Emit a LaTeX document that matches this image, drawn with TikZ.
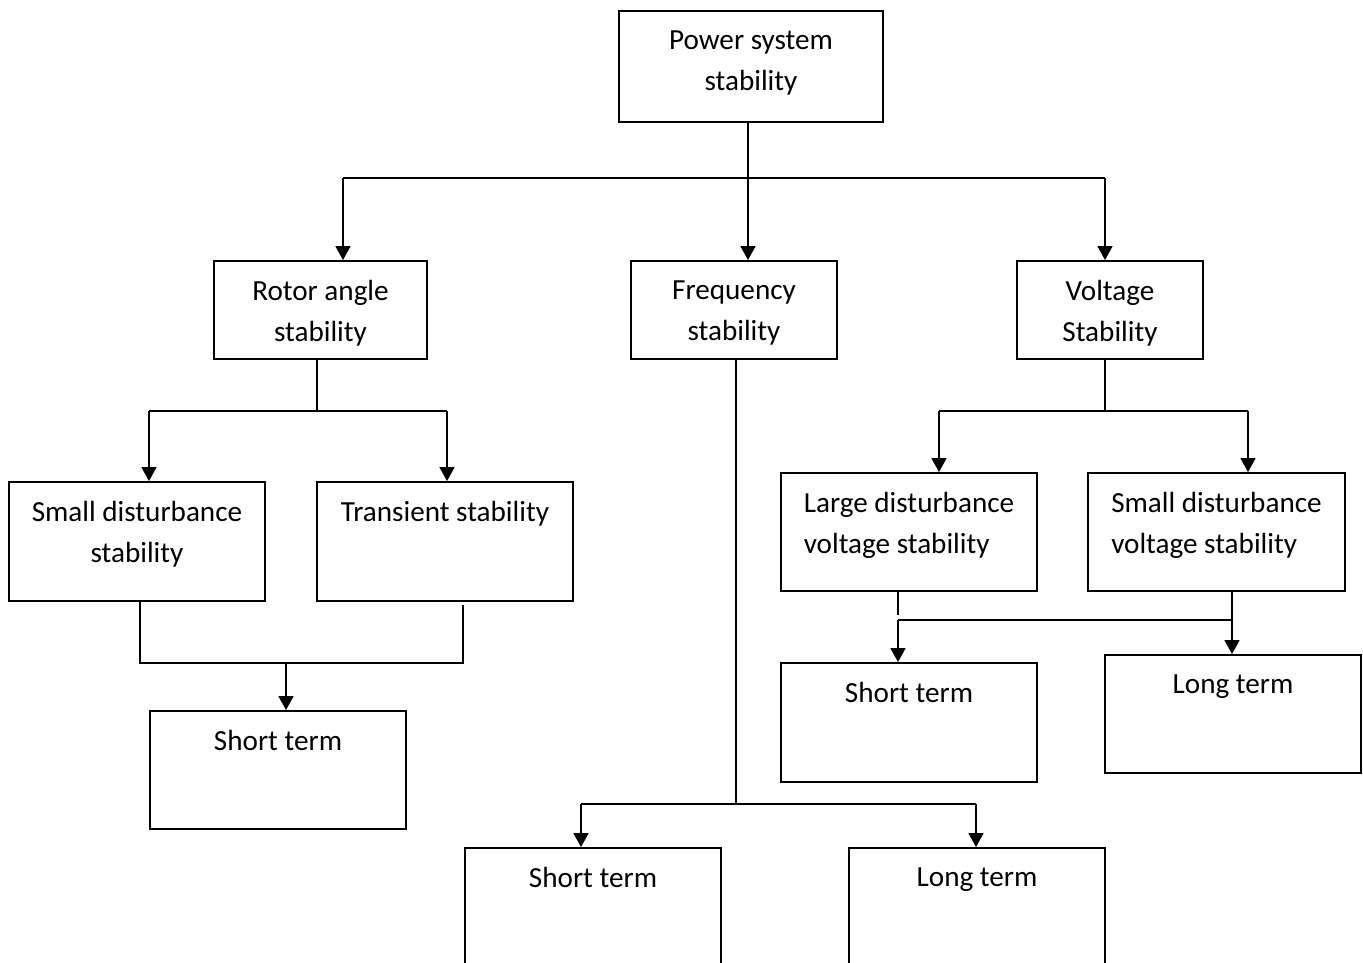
\documentclass[tikz,border=0pt]{standalone}
\usepackage{fontspec}
\setmainfont{Carlito}
\usetikzlibrary{arrows.meta}

\begin{document}
\begin{tikzpicture}[x=0.02cm,y=-0.02cm,
    every node/.style={font=\fontsize{16.6}{23.5}\selectfont},
    blk/.style={draw,line width=1.1pt,inner sep=0pt,minimum width=5.12cm,minimum height=2.36cm},
    txt/.style={anchor=north,yshift=-0.4cm,inner sep=0pt,align=center},
    txtl/.style={txt,align=left},
    link/.style={line width=1pt},
    arr/.style={line width=1pt,-{Triangle[width=0.3cm,length=0.28cm]}}]
    \useasboundingbox (0,0) rectangle (1363,963);
    % boxes
    \node[blk,minimum width=5.28cm,minimum height=2.22cm,label={[txt]north:Power system\\stability}] (ps) at (751,66.5) {};
    \node[blk,minimum width=4.26cm,minimum height=1.96cm,label={[txt]north:Rotor angle\\stability}] (rotor) at (320.5,310) {};
    \node[blk,minimum width=4.12cm,minimum height=1.96cm,label={[txt]north:Frequency\\stability}] (freq) at (734,310) {};
    \node[blk,minimum width=3.72cm,minimum height=1.96cm,label={[txt]north:Voltage\\Stability}] (volt) at (1110,310) {};
    \node[blk,minimum height=2.38cm,label={[txt]north:Small disturbance\\stability}] (sds) at (137,541.5) {};
    \node[blk,minimum height=2.38cm,label={[txt]north:Transient stability}] (trans) at (445,541.5) {};
    \node[blk,label={[txt]north:Short term}] (st1) at (278,770) {};
    \node[blk,label={[txtl]north:Large disturbance\\voltage stability}] (lds) at (909,532) {};
    \node[blk,minimum width=5.14cm,label={[txtl]north:Small disturbance\\voltage stability}] (sdvs) at (1216.5,532) {};
    \node[blk,minimum height=2.38cm,label={[txt]north:Short term}] (st2) at (909,722.5) {};
    \node[blk,label={[txt]north:Long term}] (lt2) at (1233,714) {};
    \node[blk,minimum height=2.8cm,label={[txt]north:Short term}] (st3) at (593,918) {};
    \node[blk,minimum height=2.8cm,label={[txt]north:Long term}] (lt3) at (977,918) {};
    % top level
    \coordinate (t0) at (748,178);
    \coordinate (t1) at (343,178);
    \coordinate (t2) at (1105,178);
    \draw[link] (t1) -- (t2);
    \draw[arr] (t0 |- ps.south) -- (t0 |- freq.north);
    \draw[arr] (t1) -- (t1 |- rotor.north);
    \draw[arr] (t2) -- (t2 |- volt.north);
    % rotor angle
    \coordinate (r0) at (317,411);
    \coordinate (r1) at (149,411);
    \coordinate (r2) at (447,411);
    \draw[link] (r0 |- rotor.south) -- (r0);
    \draw[link] (r1) -- (r2);
    \draw[arr] (r1) -- (r1 |- sds.north);
    \draw[arr] (r2) -- (r2 |- trans.north);
    \coordinate (m0) at (286,663);
    \coordinate (m1) at (140,663);
    \coordinate (m2) at (463,663);
    \coordinate (m3) at (463,605);
    \draw[link] (m1 |- sds.south) -- (m1) -- (m2) -- (m3);
    \draw[arr] (m0) -- (m0 |- st1.north);
    % frequency
    \coordinate (f0) at (736,804);
    \coordinate (f1) at (581,804);
    \coordinate (f2) at (976,804);
    \draw[link] (f0 |- freq.south) -- (f0);
    \draw[link] (f1) -- (f2);
    \draw[arr] (f1) -- (f1 |- st3.north);
    \draw[arr] (f2) -- (f2 |- lt3.north);
    % voltage
    \coordinate (v0) at (1105,411);
    \coordinate (v1) at (939,411);
    \coordinate (v2) at (1248,411);
    \draw[link] (v0 |- volt.south) -- (v0);
    \draw[link] (v1) -- (v2);
    \draw[arr] (v1) -- (v1 |- lds.north);
    \draw[arr] (v2) -- (v2 |- sdvs.north);
    \coordinate (w0) at (898,615);
    \coordinate (w1) at (898,620);
    \coordinate (w2) at (1232,620);
    \draw[link] (w0 |- lds.south) -- (w0);
    \draw[link] (w1) -- (w2);
    \draw[arr] (w1) -- (w1 |- st2.north);
    \draw[arr] (w2 |- sdvs.south) -- (w2 |- lt2.north);
\end{tikzpicture}
\end{document}
